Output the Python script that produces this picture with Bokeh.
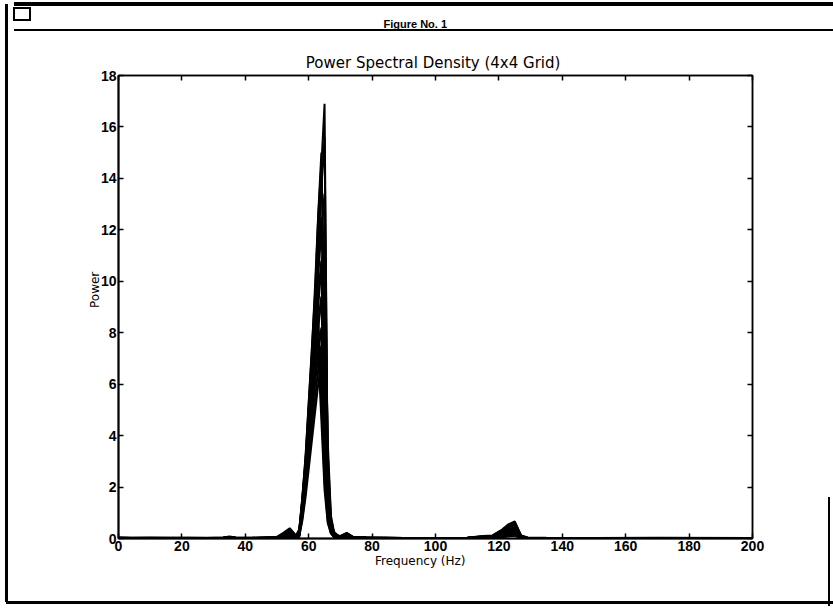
from bokeh.plotting import figure
from bokeh.models import (LinearAxis, FixedTicker, Range1d, ColumnDataSource, Title,
                          CustomJSTickFormatter)
from bokeh.embed import file_html
from bokeh.resources import INLINE

# Frequency grid (Hz)
freq = [0, 4, 10, 16, 22, 28, 33, 35, 37, 42, 47, 50,
        52, 54, 56, 57,
        58, 59, 60, 61, 62, 63, 64, 65, 66, 67, 68,
        70, 72, 74, 78, 90, 100, 110, 115, 118, 121, 123, 125, 127, 129, 135, 150, 170, 200]

# Power spectral density of the 16 grid cells (4x4)
psd_11 = [0.04,0.03,0.03,0.02,0.03,0.02,0.04,0.08,0.04,0.03,0.05,0.06, 0.22,0.40,0.12,0.35,
          1.5,3.0,5.0,7.0,9.2,11.8,14.5,16.9,2.2,0.5,0.12,
          0.10,0.22,0.06,0.05,0.02,0.02,0.03,0.10,0.12,0.35,0.55,0.66,0.12,0.04,0.03,0.02,0.03,0.02]
psd_12 = [0.03,0.02,0.03,0.03,0.02,0.03,0.03,0.06,0.03,0.03,0.04,0.05, 0.15,0.32,0.10,0.28,
          1.3,2.7,4.6,6.6,8.8,11.2,13.6,15.6,2.6,0.6,0.15,
          0.08,0.20,0.05,0.04,0.02,0.02,0.03,0.08,0.10,0.30,0.48,0.58,0.10,0.03,0.02,0.02,0.02,0.02]
psd_13 = [0.03,0.03,0.02,0.02,0.03,0.02,0.03,0.05,0.03,0.02,0.04,0.05, 0.12,0.28,0.09,0.25,
          1.6,3.2,5.3,7.4,9.5,12.5,14.6,9.0,1.8,0.4,0.1,
          0.07,0.18,0.05,0.03,0.02,0.02,0.02,0.07,0.09,0.26,0.42,0.52,0.09,0.03,0.02,0.02,0.02,0.02]
psd_14 = [0.02,0.02,0.02,0.03,0.02,0.02,0.03,0.05,0.02,0.02,0.03,0.04, 0.10,0.22,0.08,0.22,
          1.1,2.4,4.2,6.0,8.0,10.2,12.0,13.4,3.0,0.7,0.2,
          0.06,0.15,0.04,0.03,0.02,0.02,0.02,0.06,0.08,0.22,0.36,0.45,0.08,0.03,0.02,0.02,0.02,0.02]
psd_21 = [0.02,0.02,0.03,0.02,0.02,0.02,0.02,0.04,0.02,0.02,0.03,0.04, 0.09,0.20,0.07,0.20,
          1.4,2.8,4.6,6.5,8.5,10.8,12.5,6.5,1.4,0.35,0.1,
          0.05,0.13,0.04,0.03,0.02,0.02,0.02,0.05,0.07,0.20,0.33,0.40,0.07,0.02,0.02,0.02,0.02,0.02]
psd_22 = [0.02,0.02,0.02,0.02,0.02,0.02,0.02,0.04,0.02,0.02,0.03,0.03, 0.08,0.18,0.06,0.18,
          1.0,2.2,3.8,5.5,7.2,9.0,10.6,11.6,3.4,0.8,0.2,
          0.05,0.12,0.04,0.02,0.02,0.02,0.02,0.05,0.06,0.18,0.30,0.36,0.06,0.02,0.02,0.02,0.02,0.02]
psd_23 = [0.02,0.02,0.02,0.02,0.02,0.02,0.02,0.03,0.02,0.02,0.02,0.03, 0.07,0.16,0.05,0.17,
          1.2,2.5,4.2,5.9,7.6,9.5,10.8,5.0,1.2,0.3,0.1,
          0.04,0.10,0.03,0.02,0.02,0.01,0.02,0.04,0.05,0.16,0.27,0.32,0.05,0.02,0.01,0.01,0.02,0.01]
psd_24 = [0.02,0.01,0.02,0.02,0.02,0.01,0.02,0.03,0.02,0.01,0.02,0.03, 0.06,0.14,0.05,0.15,
          0.9,2.0,3.5,5.0,6.6,8.2,9.3,10.0,3.8,0.9,0.25,
          0.04,0.09,0.03,0.02,0.01,0.01,0.02,0.04,0.05,0.14,0.24,0.28,0.05,0.02,0.01,0.01,0.01,0.01]
psd_31 = [0.01,0.01,0.02,0.01,0.02,0.01,0.02,0.03,0.01,0.01,0.02,0.02, 0.05,0.12,0.04,0.14,
          1.3,2.6,4.1,5.6,7.0,8.4,9.4,4.2,1.0,0.3,0.1,
          0.03,0.08,0.03,0.02,0.01,0.01,0.01,0.03,0.04,0.12,0.21,0.25,0.04,0.02,0.01,0.01,0.01,0.01]
psd_32 = [0.01,0.01,0.01,0.01,0.01,0.01,0.02,0.02,0.01,0.01,0.02,0.02, 0.05,0.10,0.04,0.12,
          1.4,2.8,4.3,5.8,7.3,8.6,6.0,2.5,0.8,0.25,0.08,
          0.03,0.07,0.02,0.01,0.01,0.01,0.01,0.03,0.04,0.10,0.18,0.22,0.04,0.01,0.01,0.01,0.01,0.01]
psd_33 = [0.01,0.01,0.01,0.01,0.01,0.01,0.01,0.02,0.01,0.01,0.01,0.02, 0.04,0.09,0.03,0.11,
          1.0,2.1,3.4,4.7,6.0,7.3,8.2,3.6,1.1,0.3,0.1,
          0.03,0.06,0.02,0.01,0.01,0.01,0.01,0.02,0.03,0.09,0.15,0.19,0.03,0.01,0.01,0.01,0.01,0.01]
psd_34 = [0.01,0.01,0.01,0.01,0.01,0.01,0.01,0.02,0.01,0.01,0.01,0.02, 0.04,0.08,0.03,0.10,
          1.5,2.9,4.4,5.7,6.9,7.8,5.2,2.2,0.7,0.2,0.06,
          0.02,0.05,0.02,0.01,0.01,0.01,0.01,0.02,0.03,0.08,0.13,0.16,0.03,0.01,0.01,0.01,0.01,0.01]
psd_41 = [0.01,0.01,0.01,0.01,0.01,0.01,0.01,0.02,0.01,0.01,0.01,0.01, 0.03,0.07,0.03,0.09,
          0.8,1.8,3.0,4.2,5.4,6.6,7.5,3.2,1.0,0.3,0.08,
          0.02,0.05,0.02,0.01,0.01,0.01,0.01,0.02,0.02,0.07,0.11,0.14,0.03,0.01,0.01,0.01,0.01,0.01]
psd_42 = [0.01,0.01,0.01,0.01,0.01,0.01,0.01,0.01,0.01,0.01,0.01,0.01, 0.03,0.06,0.02,0.08,
          1.3,2.6,3.9,5.1,6.2,7.2,4.6,1.9,0.6,0.2,0.05,
          0.02,0.04,0.02,0.01,0.01,0.01,0.01,0.02,0.02,0.06,0.10,0.12,0.02,0.01,0.01,0.01,0.01,0.01]
psd_43 = [0.03,0.02,0.02,0.02,0.02,0.02,0.03,0.06,0.03,0.02,0.04,0.05, 0.18,0.35,0.11,0.30,
          1.6,3.1,5.2,7.3,9.8,12.6,15.0,8.0,1.6,0.4,0.1,
          0.09,0.20,0.05,0.04,0.02,0.02,0.03,0.09,0.11,0.32,0.50,0.62,0.11,0.03,0.02,0.02,0.02,0.02]
psd_44 = [0.01,0.01,0.01,0.01,0.01,0.01,0.01,0.01,0.01,0.01,0.01,0.01, 0.02,0.05,0.02,0.07,
          0.7,1.6,2.7,3.8,4.9,6.0,6.8,3.0,0.9,0.25,0.07,
          0.02,0.04,0.01,0.01,0.01,0.01,0.01,0.02,0.02,0.05,0.09,0.11,0.02,0.01,0.01,0.01,0.01,0.01]

x_ticks = [0, 20, 40, 60, 80, 100, 120, 140, 160, 180, 200]
y_ticks = [0, 2, 4, 6, 8, 10, 12, 14, 16, 18]

series = [psd_11, psd_12, psd_13, psd_14, psd_21, psd_22, psd_23, psd_24,
          psd_31, psd_32, psd_33, psd_34, psd_41, psd_42, psd_43, psd_44]

NBSP = "\u00a0"

# window frame of the figure window, drawn as CSS background lines (left, top, width, height)
frame_lines = [(14, 2, 819, 4), (14, 29, 819, 2), (5, 4, 3, 598), (6, 601, 827, 3),
               (828, 497, 2, 109), (13, 7, 18, 2), (13, 7, 2, 14), (29, 7, 2, 14), (13, 19, 18, 2)]
css = {
    "background-image": ", ".join(["linear-gradient(#000, #000)"] * len(frame_lines)),
    "background-position": ", ".join(f"{l}px {t}px" for l, t, w, h in frame_lines),
    "background-size": ", ".join(f"{w}px {h}px" for l, t, w, h in frame_lines),
    "background-repeat": "no-repeat",
}

p = figure(width=833, height=610, output_backend="svg", toolbar_location=None,
           x_range=Range1d(0, 200), y_range=Range1d(0, 18),
           min_border_left=118, min_border_right=81, min_border_top=75, min_border_bottom=72,
           title=None, styles=css)

p.xgrid.visible = False
p.ygrid.visible = False
p.outline_line_color = "black"
p.outline_line_width = 1.5
p.background_fill_color = "white"
p.border_fill_color = None

for ax, ticks in ((p.xaxis[0], x_ticks), (p.yaxis[0], y_ticks)):
    ax.ticker = FixedTicker(ticks=ticks)
    ax.major_tick_in = 5
    ax.major_tick_out = 0
    ax.minor_tick_in = 0
    ax.minor_tick_out = 0
    ax.axis_line_width = 2
    ax.major_tick_line_width = 1.5
    ax.major_label_text_font = "Liberation Sans"
    ax.major_label_text_font_style = "bold"
    ax.major_label_text_font_size = "14px"
    ax.major_label_text_color = "black"
    ax.major_label_standoff = 2
    ax.axis_label_text_font = "DejaVu Sans"
    ax.axis_label_text_font_size = "12px"
    ax.axis_label_text_font_style = "normal"
    ax.axis_label_text_color = "black"

# no-break spaces shift the labels off-centre, as in the original window
p.xaxis[0].axis_label = "Frequency (Hz)" + NBSP * 8
p.xaxis[0].axis_label_standoff = 0
p.yaxis[0].axis_label = NBSP * 9 + "Power"
p.yaxis[0].axis_label_standoff = -4

blank = CustomJSTickFormatter(code="return '';")
for loc, ticks in (("right", y_ticks), ("above", x_ticks)):
    ax = LinearAxis(ticker=FixedTicker(ticks=ticks), major_tick_in=5, major_tick_out=0,
                    minor_tick_in=0, minor_tick_out=0, formatter=blank,
                    major_label_standoff=0, axis_line_width=1.5, major_tick_line_width=1.5)
    p.add_layout(ax, loc)

chart_title = Title(text="Power Spectral Density  (4x4 Grid)", align="center",
                    text_font="DejaVu Sans", text_font_size="15px", text_font_style="normal",
                    text_color="black", standoff=8)
window_title = Title(text="Figure No. 1", align="left", offset=265, text_font="Liberation Sans",
                     text_font_style="bold", text_font_size="11px", text_color="black",
                     vertical_align="top", standoff=32)
p.add_layout(chart_title, "above")
p.add_layout(window_title, "above")

for s in series:
    src = ColumnDataSource(dict(f=freq, pw=s))
    p.line("f", "pw", source=src, line_color="black", line_width=2)

open("out.html", "w").write(file_html(p, INLINE))
